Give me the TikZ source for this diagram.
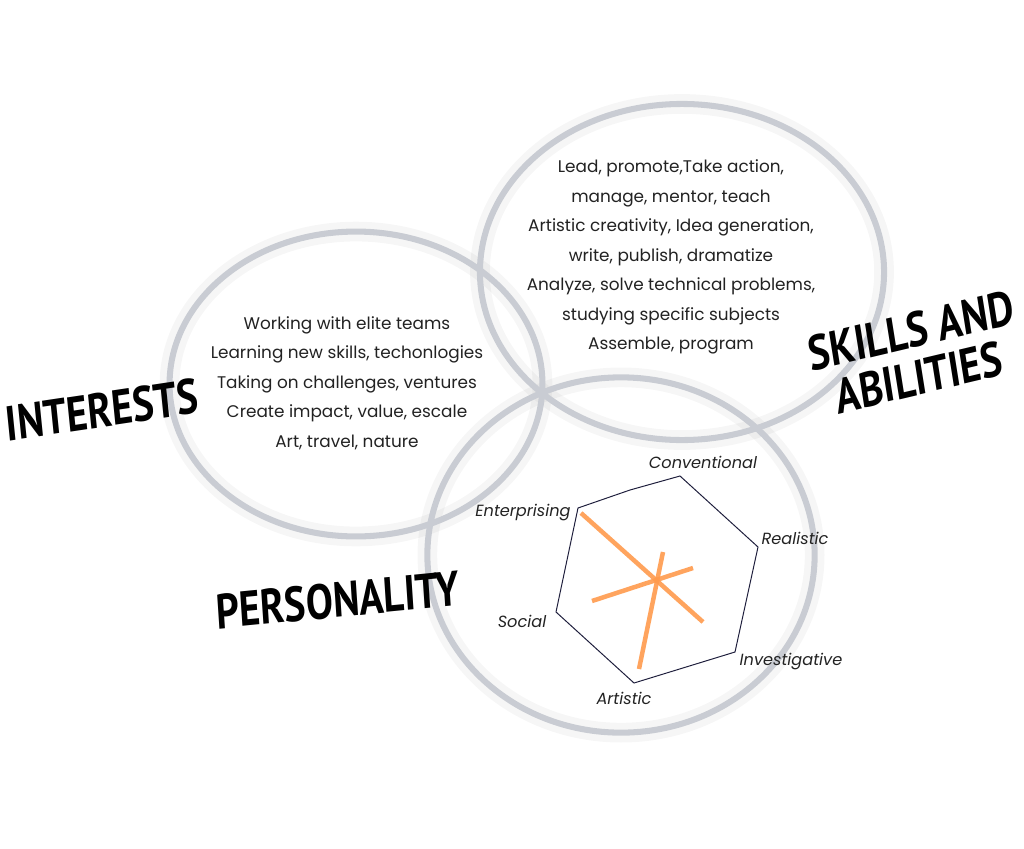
\documentclass[tikz,border=0pt]{standalone}
\usepackage{fontspec}
\setmainfont{Poppins}
\newfontfamily\headfont{PT Sans}
\usetikzlibrary{positioning}
\definecolor{ringgray}{HTML}{C9CCD3}
\definecolor{ink}{HTML}{222222}
\definecolor{hexline}{HTML}{1E1E3C}
\definecolor{spoke}{HTML}{FF9A4D}
\tikzset{ring/.style={draw=ringgray,line width=4.3pt},
  halo/.style={draw=black,line width=14pt,opacity=0.035},
  big/.style={font=\headfont\bfseries\fontsize{35}{34}\selectfont,text=black,xscale=0.82,inner sep=0pt,align=center},
  lst/.style={align=center,font=\fontsize{12}{21}\selectfont,text=ink,inner sep=0pt},
  axis/.style={font=\itshape\fontsize{11.5}{12}\selectfont,text=ink,inner sep=0pt},
  ray/.style={draw=spoke,line width=3.2pt,opacity=0.9}}

\begin{document}
\begin{tikzpicture}[x=0.025cm,y=-0.025cm]
\useasboundingbox (0,0) rectangle (1024,848);
% soft halos under the rings
\draw[halo] (356,384) ellipse [x radius=4.66cm,y radius=3.81cm];
\draw[halo] (682,272) ellipse [x radius=5.05cm,y radius=4.2cm];
\draw[halo] (621,555) ellipse [x radius=4.84cm,y radius=4.44cm];
\draw[ring] (356,384) ellipse [x radius=4.66cm,y radius=3.81cm];
\draw[ring] (682,272) ellipse [x radius=5.05cm,y radius=4.2cm];
\draw[ring] (621,555) ellipse [x radius=4.84cm,y radius=4.44cm];

% lists
\node[lst] (intlist) at (347,383) {Working with elite teams\\Learning new skills, techonlogies\\Taking on challenges, ventures\\Create impact, value, escale\\Art, travel, nature};
\node[lst] (skilllist) at (671,257) {Lead, promote,Take action,\\manage, mentor, teach\\Artistic creativity, Idea generation,\\write, publish, dramatize\\Analyze, solve technical problems,\\studying specific subjects\\Assemble, program};

% headings
\node[big,rotate=7] (interests) at (102,410) {INTERESTS};
\node[big,rotate=11] (skills) at (915,354) {SKILLS AND\\ABILITIES};
\node[big,rotate=4.6] (personality) at (338,600) {PERSONALITY};

% hexagon chart
\coordinate (conv) at (680,476); \coordinate (real) at (758,547); \coordinate (inv) at (735,652);
\coordinate (art) at (634,683); \coordinate (soc) at (556,612); \coordinate (ent) at (578,508);
\draw[hexline,line width=0.7pt] (ent) -- (630,490) -- (conv) -- (real) -- (inv) -- (art) -- (soc) -- cycle;
\draw[ray] (581,513) -- (703,622); \draw[ray] (663,552) -- (639,669); \draw[ray] (693,568) -- (592,601);
\node[axis] at (703,462) {Conventional}; \node[axis] at (523,513) {Enterprising};
\node[axis] at (795,538) {Realistic}; \node[axis] at (522,621) {Social};
\node[axis] at (791,662) {Investigative}; \node[axis] at (624,698) {Artistic};
\end{tikzpicture}
\end{document}
